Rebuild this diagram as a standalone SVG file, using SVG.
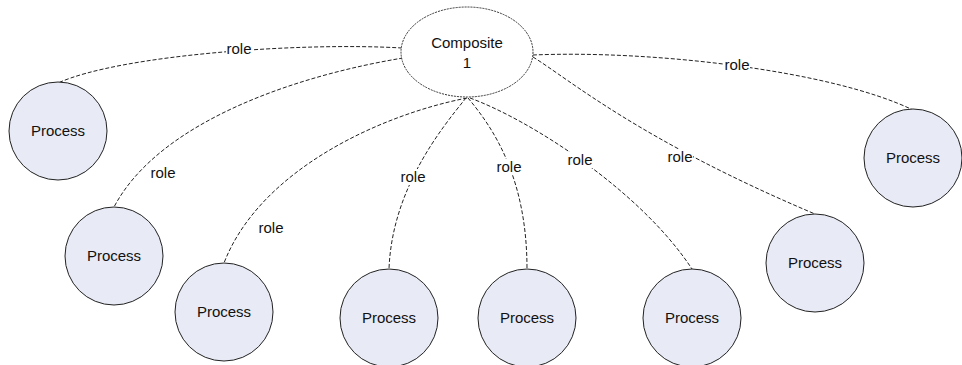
<svg xmlns="http://www.w3.org/2000/svg" width="962" height="365" viewBox="0 0 962 365">
  <style>
    text { font-family: "Liberation Sans", Arial, sans-serif; font-size: 15px; fill: #111; text-anchor: middle; }
    .proc { fill: #e8ebf5; stroke: #222; stroke-width: 1; }
    .comp { fill: #ffffff; stroke: #333; stroke-width: 1; stroke-dasharray: 2 1; }
    .link { fill: none; stroke: #222; stroke-width: 1; stroke-dasharray: 4 2; }
    .lblbg { fill: #ffffff; }
  </style>
  <rect width="962" height="365" fill="#ffffff"/>

  <!-- dashed role connectors from the composite to each process -->
  <g id="connectors">
    <path class="link" d="M402,48 C300,42 120,55 58,83"/>
    <path class="link" d="M403,58 C300,75 160,120 114,207"/>
    <path class="link" d="M467,98 C380,115 260,170 224,263"/>
    <path class="link" d="M466,98 C440,130 392,190 389,269"/>
    <path class="link" d="M468,98 C495,130 527,180 527,269"/>
    <path class="link" d="M470,98 C530,120 640,190 692,269"/>
    <path class="link" d="M533,57 C570,80 640,140 815,214"/>
    <path class="link" d="M533,55 C650,50 830,70 913,110"/>

    <g id="labels">
      <rect class="lblbg" x="226" y="41" width="26" height="16"/>
      <text x="239" y="54">role</text>
      <text x="163" y="178">role</text>
      <text x="271" y="233">role</text>
      <rect class="lblbg" x="400" y="169" width="26" height="16"/>
      <text x="413" y="182">role</text>
      <rect class="lblbg" x="496" y="159" width="26" height="16"/>
      <text x="509" y="172">role</text>
      <rect class="lblbg" x="567" y="152" width="26" height="16"/>
      <text x="580" y="165">role</text>
      <rect class="lblbg" x="667" y="149" width="26" height="16"/>
      <text x="680" y="162">role</text>
      <rect class="lblbg" x="724" y="57" width="26" height="16"/>
      <text x="737" y="70">role</text>
    </g>
  </g>

  <g id="composite1">
    <ellipse class="comp" cx="467" cy="52" rx="66" ry="45"/>
    <text x="467" y="48">Composite</text>
    <text x="467" y="68">1</text>
  </g>

  <g id="process1">
    <circle class="proc" cx="58" cy="131" r="49"/>
    <text x="58" y="136">Process</text>
  </g>
  <g id="process2">
    <circle class="proc" cx="114" cy="256" r="49"/>
    <text x="114" y="261">Process</text>
  </g>
  <g id="process3">
    <circle class="proc" cx="224" cy="312" r="49"/>
    <text x="224" y="317">Process</text>
  </g>
  <g id="process4">
    <circle class="proc" cx="389" cy="318" r="49"/>
    <text x="389" y="323">Process</text>
  </g>
  <g id="process5">
    <circle class="proc" cx="527" cy="318" r="49"/>
    <text x="527" y="323">Process</text>
  </g>
  <g id="process6">
    <circle class="proc" cx="692" cy="318" r="49"/>
    <text x="692" y="323">Process</text>
  </g>
  <g id="process7">
    <circle class="proc" cx="815" cy="263" r="49"/>
    <text x="815" y="268">Process</text>
  </g>
  <g id="process8">
    <circle class="proc" cx="913" cy="158" r="49"/>
    <text x="913" y="163">Process</text>
  </g>
</svg>
